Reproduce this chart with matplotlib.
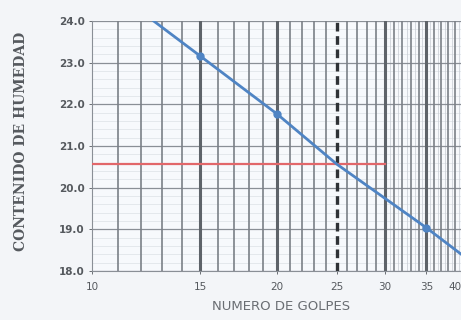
import matplotlib
matplotlib.use("Agg")
import matplotlib.pyplot as plt
from matplotlib.ticker import FixedLocator, NullFormatter, NullLocator

# Flow curve: blows vs. moisture content (log x-axis)
golpes_pts = [15, 20, 35]
humedad_pts = [23.16, 21.77, 19.04]

# Flow line extended across the chart
golpes_line = [12.6, 15, 20, 25, 35, 40]
humedad_line = [24.0, 23.16, 21.77, 20.57, 19.04, 18.39]

# Liquid limit read at 25 blows
ll_value = 20.57
ll_x = [10, 30]
ref_blows = 25

x_ticks = [10, 15, 20, 25, 30, 35, 40]
x_ticklabels = ["10", "15", "20", "25", "30", "35", "40"]
y_ticks = [18.0, 19.0, 20.0, 21.0, 22.0, 23.0, 24.0]

fig = plt.figure(figsize=(4.61, 3.20), dpi=100)
fig.patch.set_facecolor("#f3f5f8")
ax = fig.add_axes([0.2, 0.153, 0.802, 0.781])
ax.set_facecolor("#f7f9fc")

ax.set_xscale("log")
ax.set_xlim(10, 40)
ax.set_ylim(18, 24)

# Grid: faint fine lines, integer vertical lines, heavier 5-blow lines
for y in [18 + 0.2 * i for i in range(31)]:
    ax.axhline(y, color="#dde1e6", lw=0.5, zorder=0)
for y in y_ticks:
    ax.axhline(y, color="#8a8f96", lw=0.9, zorder=1)
for g in [30.5 + i for i in range(10)]:
    ax.axvline(g, color="#c6cad1", lw=0.5, zorder=0)
for g in range(11, 40):
    if g in (15, 20, 25, 30, 35):
        continue
    ax.axvline(g, color="#7b8087", lw=1.2, zorder=1)
for g in (15, 20, 30, 35):
    ax.axvline(g, color="#5e6369", lw=2.2, zorder=1)
ax.axvline(ref_blows, color="#2f3236", lw=2.4, ls=(0, (2.6, 1.4)), zorder=3)

ax.plot(ll_x, [ll_value, ll_value], color="#e2676a", lw=1.6, zorder=4)
ax.plot(golpes_line, humedad_line, color="#4f84c4", lw=2.0, zorder=5)
ax.plot(golpes_pts, humedad_pts, "o", color="#4f84c4", ms=5, zorder=6)

ax.xaxis.set_major_locator(FixedLocator(x_ticks))
ax.xaxis.set_minor_locator(NullLocator())
ax.xaxis.set_minor_formatter(NullFormatter())
ax.set_xticklabels(x_ticklabels)
ax.set_yticks(y_ticks)
ax.set_yticklabels([f"{v:.1f}" for v in y_ticks])
ax.tick_params(axis="both", labelsize=7.5, colors="#55595e", length=2, width=0.6)
ax.tick_params(axis="x", pad=6)
for lbl in ax.get_yticklabels():
    lbl.set_fontweight("bold")
# the rightmost tick label sits at the figure edge; nudge it inward
ax.get_xticklabels()[-1].set_horizontalalignment("right")

for s in ["top", "right"]:
    ax.spines[s].set_visible(False)
for s in ["left", "bottom"]:
    ax.spines[s].set_color("#8a8f96")
    ax.spines[s].set_linewidth(0.8)

ax.set_xlabel("NUMERO DE GOLPES", fontsize=9.5, color="#6a6e73")
ax.xaxis.set_label_coords(0.51, -0.115)
ax.set_ylabel("CONTENIDO DE HUMEDAD", fontsize=10, color="#55595e",
              family="DejaVu Serif", fontweight="bold")
ax.yaxis.set_label_coords(-0.173, 0.52)

fig.savefig("out.png", dpi=100, facecolor=fig.get_facecolor())
